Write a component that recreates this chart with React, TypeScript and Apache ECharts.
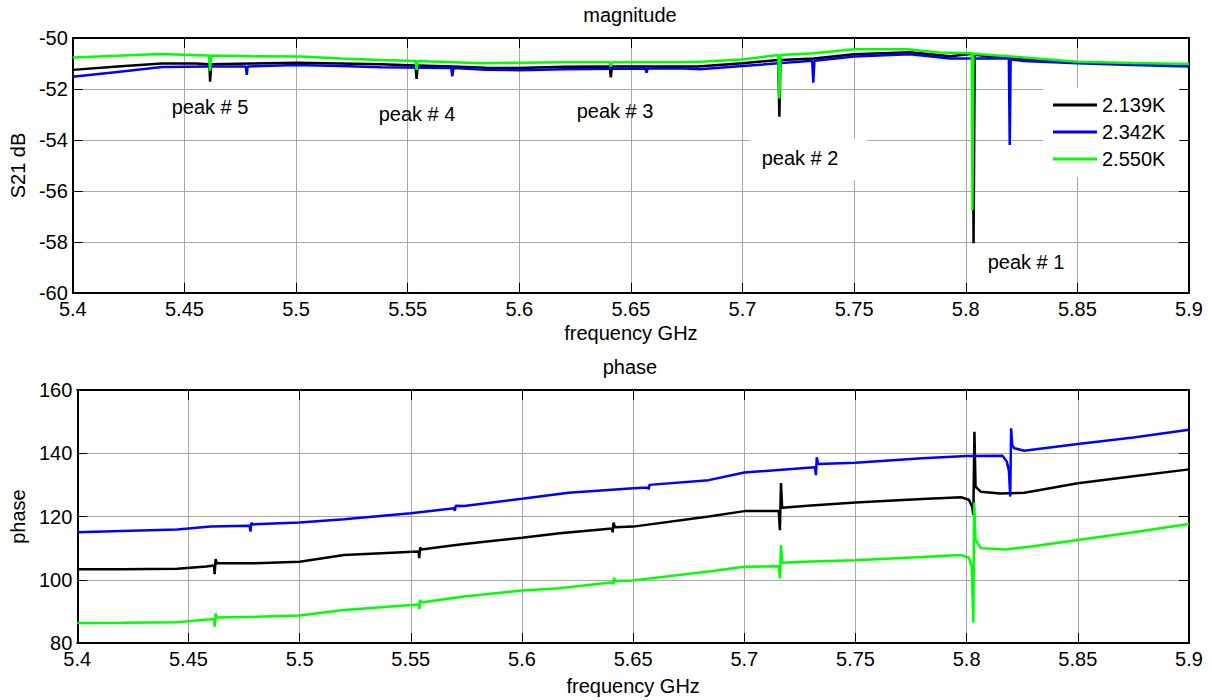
import React, { useEffect, useRef } from "react";
import * as echarts from "echarts";

// ---------- data ----------
const seriesNames = ["2.139K", "2.342K", "2.550K"];
const seriesColors = ["#000000", "#0000ff", "#00ff00"];

const xTickMin = 5.4;
const xTickMax = 5.9;
const xTickStep = 0.05;
const magTicks = { min: -60, max: -50, step: 2 };
const phaseTicks = { min: 80, max: 160, step: 20 };

// magnitude S21 dB
const magBlackFreq = [5.4, 5.42, 5.44, 5.455, 5.4612, 5.4615, 5.462, 5.48, 5.5, 5.52, 5.538, 5.5535, 5.554, 5.5545, 5.57, 5.585, 5.6, 5.62, 5.6405, 5.641, 5.6415, 5.66, 5.68, 5.7, 5.716, 5.7165, 5.717, 5.732, 5.75, 5.775, 5.793, 5.803, 5.8035, 5.804, 5.81, 5.826, 5.85, 5.875, 5.9];
const magBlackDb = [-51.25, -51.12, -51.0, -51.0, -51.03, -51.71, -51.03, -51.0, -50.97, -51.0, -51.03, -51.08, -51.6, -51.08, -51.12, -51.17, -51.18, -51.13, -51.12, -51.54, -51.12, -51.12, -51.12, -50.99, -50.86, -53.09, -50.86, -50.8, -50.64, -50.56, -50.72, -50.62, -58.05, -50.66, -50.72, -50.82, -50.95, -51.02, -51.06];

const magBlueFreq = [5.4, 5.42, 5.44, 5.46, 5.4775, 5.4779, 5.4783, 5.5, 5.52, 5.538, 5.5695, 5.57, 5.5705, 5.585, 5.6, 5.62, 5.6565, 5.657, 5.6575, 5.672, 5.681, 5.7, 5.7312, 5.7317, 5.7322, 5.75, 5.775, 5.793, 5.8193, 5.8197, 5.8201, 5.826, 5.85, 5.875, 5.9];
const magBlueDb = [-51.52, -51.33, -51.14, -51.12, -51.12, -51.45, -51.12, -51.06, -51.1, -51.15, -51.18, -51.5, -51.18, -51.25, -51.26, -51.23, -51.2, -51.36, -51.2, -51.19, -51.23, -51.1, -50.89, -51.75, -50.89, -50.73, -50.64, -50.8, -50.8, -54.2, -50.84, -50.9, -50.99, -51.06, -51.12];

const magGreenFreq = [5.4, 5.42, 5.439, 5.461, 5.4615, 5.462, 5.48, 5.502, 5.52, 5.538, 5.5535, 5.554, 5.5545, 5.583, 5.6, 5.62, 5.6405, 5.641, 5.6415, 5.672, 5.681, 5.7, 5.716, 5.7165, 5.717, 5.732, 5.75, 5.774, 5.788, 5.8027, 5.803, 5.8034, 5.8065, 5.826, 5.85, 5.875, 5.9];
const magGreenDb = [-50.76, -50.7, -50.63, -50.69, -51.28, -50.69, -50.72, -50.73, -50.8, -50.86, -50.9, -51.25, -50.9, -50.99, -50.97, -50.95, -50.95, -51.13, -50.95, -50.95, -50.93, -50.84, -50.67, -52.37, -50.67, -50.6, -50.44, -50.44, -50.57, -50.6, -56.75, -50.62, -50.64, -50.76, -50.93, -50.98, -51.02];

// phase (degrees)
const phBlackFreq = [5.4, 5.42, 5.445, 5.458, 5.4615, 5.4618, 5.4622, 5.4628, 5.48, 5.5, 5.52, 5.5535, 5.5538, 5.5542, 5.5548, 5.565, 5.574, 5.6, 5.617, 5.6405, 5.6408, 5.6412, 5.6418, 5.65, 5.684, 5.7, 5.7155, 5.716, 5.7165, 5.717, 5.73, 5.75, 5.78, 5.7975, 5.801, 5.8025, 5.803, 5.8035, 5.804, 5.8064, 5.815, 5.826, 5.85, 5.875, 5.9];
const phBlack = [103.3, 103.3, 103.5, 104.2, 104.5, 101.8, 106.5, 105.2, 105.2, 105.7, 107.8, 108.9, 106.8, 110.2, 109.6, 110.5, 111.3, 113.3, 114.7, 116.2, 115.0, 118.1, 116.6, 116.8, 120.0, 121.7, 121.7, 115.7, 130.6, 122.8, 123.5, 124.4, 125.5, 126.1, 125.3, 123.0, 120.5, 146.8, 129.4, 127.8, 127.3, 127.5, 130.5, 132.7, 134.9];

const phBlueFreq = [5.4, 5.42, 5.445, 5.46, 5.4775, 5.4779, 5.4783, 5.479, 5.5, 5.52, 5.55, 5.5695, 5.5698, 5.5702, 5.574, 5.6, 5.621, 5.65, 5.6568, 5.657, 5.6573, 5.684, 5.7, 5.7318, 5.7322, 5.7326, 5.7332, 5.75, 5.78, 5.8, 5.8161, 5.818, 5.819, 5.8196, 5.82, 5.8205, 5.8214, 5.8258, 5.85, 5.875, 5.9];
const phBlue = [115.0, 115.4, 115.9, 116.8, 117.1, 115.2, 118.0, 117.5, 118.1, 119.1, 121.0, 122.6, 121.8, 123.4, 123.3, 125.6, 127.5, 128.9, 129.2, 128.5, 130.0, 131.5, 133.9, 135.6, 133.1, 138.7, 136.6, 137.0, 138.4, 139.1, 139.2, 137.5, 134.5, 126.3, 147.9, 142.5, 141.6, 140.8, 142.9, 145.0, 147.4];

const phGreenFreq = [5.4, 5.42, 5.445, 5.4615, 5.4618, 5.4622, 5.4628, 5.48, 5.5, 5.52, 5.5535, 5.5538, 5.5542, 5.5548, 5.565, 5.574, 5.6, 5.617, 5.6408, 5.6411, 5.6414, 5.642, 5.65, 5.684, 5.7, 5.7155, 5.716, 5.7165, 5.717, 5.73, 5.75, 5.78, 5.7975, 5.801, 5.8023, 5.803, 5.8034, 5.804, 5.8064, 5.8175, 5.83, 5.85, 5.875, 5.9];
const phGreen = [86.3, 86.4, 86.6, 87.6, 85.2, 89.4, 88.1, 88.3, 88.7, 90.4, 92.2, 90.7, 93.6, 92.8, 93.8, 94.7, 96.6, 97.3, 99.2, 98.6, 100.6, 99.6, 99.8, 102.6, 104.1, 104.3, 100.4, 111.0, 105.4, 105.8, 106.2, 107.2, 107.8, 107.0, 104.1, 86.5, 124.4, 112.6, 110.0, 109.6, 110.6, 112.6, 115.0, 117.6];

const peakLabelTexts = ["peak # 5", "peak # 4", "peak # 3", "peak # 2", "peak # 1"];

// ---------- helpers ----------
const FONT = "'Liberation Sans', Arial, Helvetica, sans-serif";
const FS = 20;
const zip = (f: number[], v: number[]) => f.map((x, i) => [x, v[i]]);
const xFmt = (v: number) => String(Number(v.toFixed(2)));

const gridLine = { show: true, lineStyle: { color: "#a8a8a8", width: 1 } };
const axLine = { show: true, onZero: false, lineStyle: { color: "#000", width: 2 } };
const axTick = { show: true, inside: true, length: 10, lineStyle: { color: "#000", width: 1 } };

function xAxes(gridIndex: number, nameGap: number) {
  const base = { type: "value", gridIndex, min: xTickMin, max: xTickMax, interval: xTickStep };
  return [
    {
      ...base,
      position: "bottom",
      axisLine: axLine,
      axisTick: axTick,
      axisLabel: { fontSize: FS, color: "#000", margin: 6, fontFamily: FONT, formatter: xFmt },
      splitLine: gridLine,
      name: "frequency GHz",
      nameLocation: "middle",
      nameGap,
      nameTextStyle: { fontSize: FS, color: "#000", fontFamily: FONT },
    },
    {
      ...base,
      position: "top",
      axisLine: axLine,
      axisTick: axTick,
      axisLabel: { show: false },
      splitLine: { show: false },
    },
  ];
}

function yAxes(gridIndex: number, t: { min: number; max: number; step: number }, name: string) {
  const base = { type: "value", gridIndex, min: t.min, max: t.max, interval: t.step };
  return [
    {
      ...base,
      position: "left",
      axisLine: axLine,
      axisTick: axTick,
      axisLabel: { fontSize: FS, color: "#000", margin: 5, fontFamily: FONT },
      splitLine: gridLine,
      name,
      nameLocation: "middle",
      nameGap: 44,
      nameRotate: 90,
      nameTextStyle: { fontSize: FS, color: "#000", fontFamily: FONT },
    },
    {
      ...base,
      position: "right",
      axisLine: axLine,
      axisTick: axTick,
      axisLabel: { show: false },
      splitLine: { show: false },
    },
  ];
}

export default function App() {
  const ref = useRef<HTMLDivElement>(null);

  useEffect(() => {
    if (!ref.current) return;
    const chart = echarts.init(ref.current, undefined, { renderer: "svg" });

    const magData = [zip(magBlackFreq, magBlackDb), zip(magBlueFreq, magBlueDb), zip(magGreenFreq, magGreenDb)];
    const phData = [zip(phBlackFreq, phBlack), zip(phBlueFreq, phBlue), zip(phGreenFreq, phGreen)];

    const lineSeries = (name: string, color: string, data: number[][], idx: number) => ({
      type: "line",
      name,
      data,
      xAxisIndex: idx === 0 ? 0 : 2,
      yAxisIndex: idx === 0 ? 0 : 2,
      showSymbol: false,
      symbol: "none",
      lineStyle: { color, width: 2.5 },
      itemStyle: { color },
      emphasis: { disabled: true },
      silent: true,
      z: 3,
    });

    const series: any[] = [];
    seriesNames.forEach((n, i) => series.push(lineSeries(n, seriesColors[i], magData[i], 0)));
    seriesNames.forEach((n, i) => series.push(lineSeries(n, seriesColors[i], phData[i], 1)));

    const labelPos = [
      [210, 107],
      [417, 114],
      [615, 111],
      [800, 158],
      [1026, 262],
    ];

    const graphic: any[] = [
      { type: "rect", z: 1, shape: { x: 750, y: 139, width: 117, height: 41 }, style: { fill: "#fff" }, silent: true },
      ...peakLabelTexts.map((t, i) => ({
        type: "text",
        z: 5,
        x: labelPos[i][0],
        y: labelPos[i][1],
        style: { text: t, fontSize: FS, fontFamily: FONT, fill: "#000", textAlign: "center", textVerticalAlign: "middle" },
        silent: true,
      })),
    ];

    const xa = [...xAxes(0, 30), ...xAxes(1, 33)];
    // reorder: [bottom0, top0, bottom1, top1] -> series use 0 and 2
    const ya = [...yAxes(0, magTicks, "S21 dB"), ...yAxes(1, phaseTicks, "phase")];

    chart.setOption({
      animation: false,
      backgroundColor: "#ffffff",
      textStyle: { fontFamily: FONT },
      title: [
        { text: "magnitude", left: 630, top: 5, textAlign: "center", padding: 0, textStyle: { fontSize: FS, fontWeight: "normal", color: "#000", fontFamily: FONT } },
        { text: "phase", left: 630, top: 357, textAlign: "center", padding: 0, textStyle: { fontSize: FS, fontWeight: "normal", color: "#000", fontFamily: FONT } },
      ],
      legend: {
        data: seriesNames,
        orient: "vertical",
        left: 1043,
        top: 88,
        padding: [7, 14, 8, 10],
        itemGap: 7,
        itemWidth: 44,
        itemHeight: 3,
        icon: "rect",
        backgroundColor: "#ffffff",
        borderWidth: 0,
        selectedMode: false,
        textStyle: { fontSize: FS, color: "#000", fontFamily: FONT },
        z: 10,
      },
      grid: [
        { left: 72, right: 23, top: 38, height: 255 },
        { left: 72, right: 23, top: 390, height: 253 },
      ],
      xAxis: xa,
      yAxis: ya,
      graphic,
      series,
    });

    return () => chart.dispose();
  }, []);

  return (
    <div
      ref={ref}
      style={{ position: "absolute", left: 0, top: 0, width: 1212, height: 700, background: "#fff" }}
    />
  );
}
